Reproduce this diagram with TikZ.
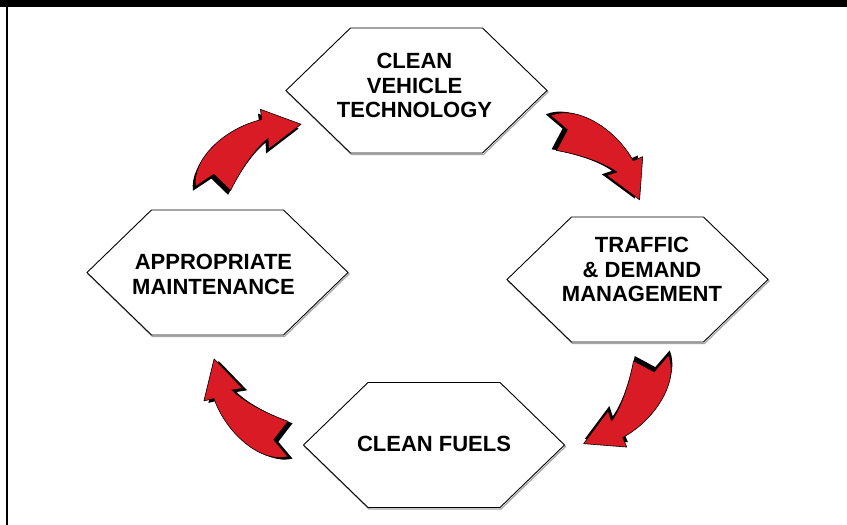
\documentclass[tikz,border=0pt]{standalone}
\usepackage{fontspec}
\setmainfont{Liberation Sans}
\usetikzlibrary{calc}
\definecolor{arrowred}{RGB}{216,27,36}
\tikzset{
  hexline/.style={draw=black,line width=0.9pt,fill=white,line join=miter},
  hexshadow/.style={draw=black!35,line width=1.2pt},
  lab/.style={font=\bfseries\fontsize{22}{24.2}\selectfont,align=center,inner sep=0pt},
  arrowbody/.style={fill=arrowred,draw=black,line width=0.6pt,line join=round},
  arrowshadow/.style={fill=black},
}
\newcommand{\hexat}[1]{%
  \draw[hexshadow] ($(#1)+(-129.5,-1.5)$) -- ++(64.5,62.5) -- ++(132,0) -- ++(64.5,-62.5) -- ++(-64.5,-62.5) -- ++(-132,0) -- cycle;
  \draw[hexline] ($(#1)+(-130.5,0)$) -- ++(64.5,62.5) -- ++(132,0) -- ++(64.5,-62.5) -- ++(-64.5,-62.5) -- ++(-132,0) -- cycle;}
\newcommand{\cyclearrow}[3]{%
  \begin{scope}[shift={(#1,#2)},rotate=#3]
    \fill[arrowshadow,shift={(-4.5,-2)}] (-13,12) .. controls (0,36) and (45,42) .. (80,27) -- (85,36) -- (109,0) -- (68,-1) -- (74,8) .. controls (55,7) and (30,-3) .. (13,-12) -- (9,11) -- cycle;
    \draw[arrowbody] (-13,12) .. controls (0,36) and (45,42) .. (80,27) -- (85,36) -- (109,0) -- (68,-1) -- (74,8) .. controls (55,7) and (30,-3) .. (13,-12) -- (9,11) -- cycle;
  \end{scope}}
\begin{document}
\begin{tikzpicture}[x=1pt,y=1pt]
  \useasboundingbox (0,0) rectangle (847,525);
  \fill[white] (0,0) rectangle (847,525);
  % frame
  \fill[black] (0,518) rectangle (847,525);
  \fill[black] (6,0) rectangle (8,518);
  % hexagon centres
  \coordinate (tech) at (416.5,434.5);
  \coordinate (traffic) at (637.5,245.5);
  \coordinate (fuels) at (434,80);
  \coordinate (maint) at (217.5,252.5);
  \hexat{tech}
  \hexat{traffic}
  \hexat{fuels}
  \hexat{maint}
  \node[lab] (techlab) at ($(tech)+(-2,5)$) {CLEAN\\VEHICLE\\TECHNOLOGY};
  \node[lab] (trafficlab) at ($(traffic)+(4.5,10)$) {TRAFFIC\\\& DEMAND\\MANAGEMENT};
  \node[lab] (fuelslab) at ($(fuels)+(0,1.5)$) {CLEAN FUELS};
  \node[lab] (maintlab) at ($(maint)+(-4,-2)$) {APPROPRIATE\\MAINTENANCE};
  % arrows
  \cyclearrow{213}{336.5}{36.1}
  \cyclearrow{553.5}{392}{-37.8}
  \cyclearrow{651}{167}{-128.2}
  \cyclearrow{288}{86}{132.7}
\end{tikzpicture}
\end{document}
